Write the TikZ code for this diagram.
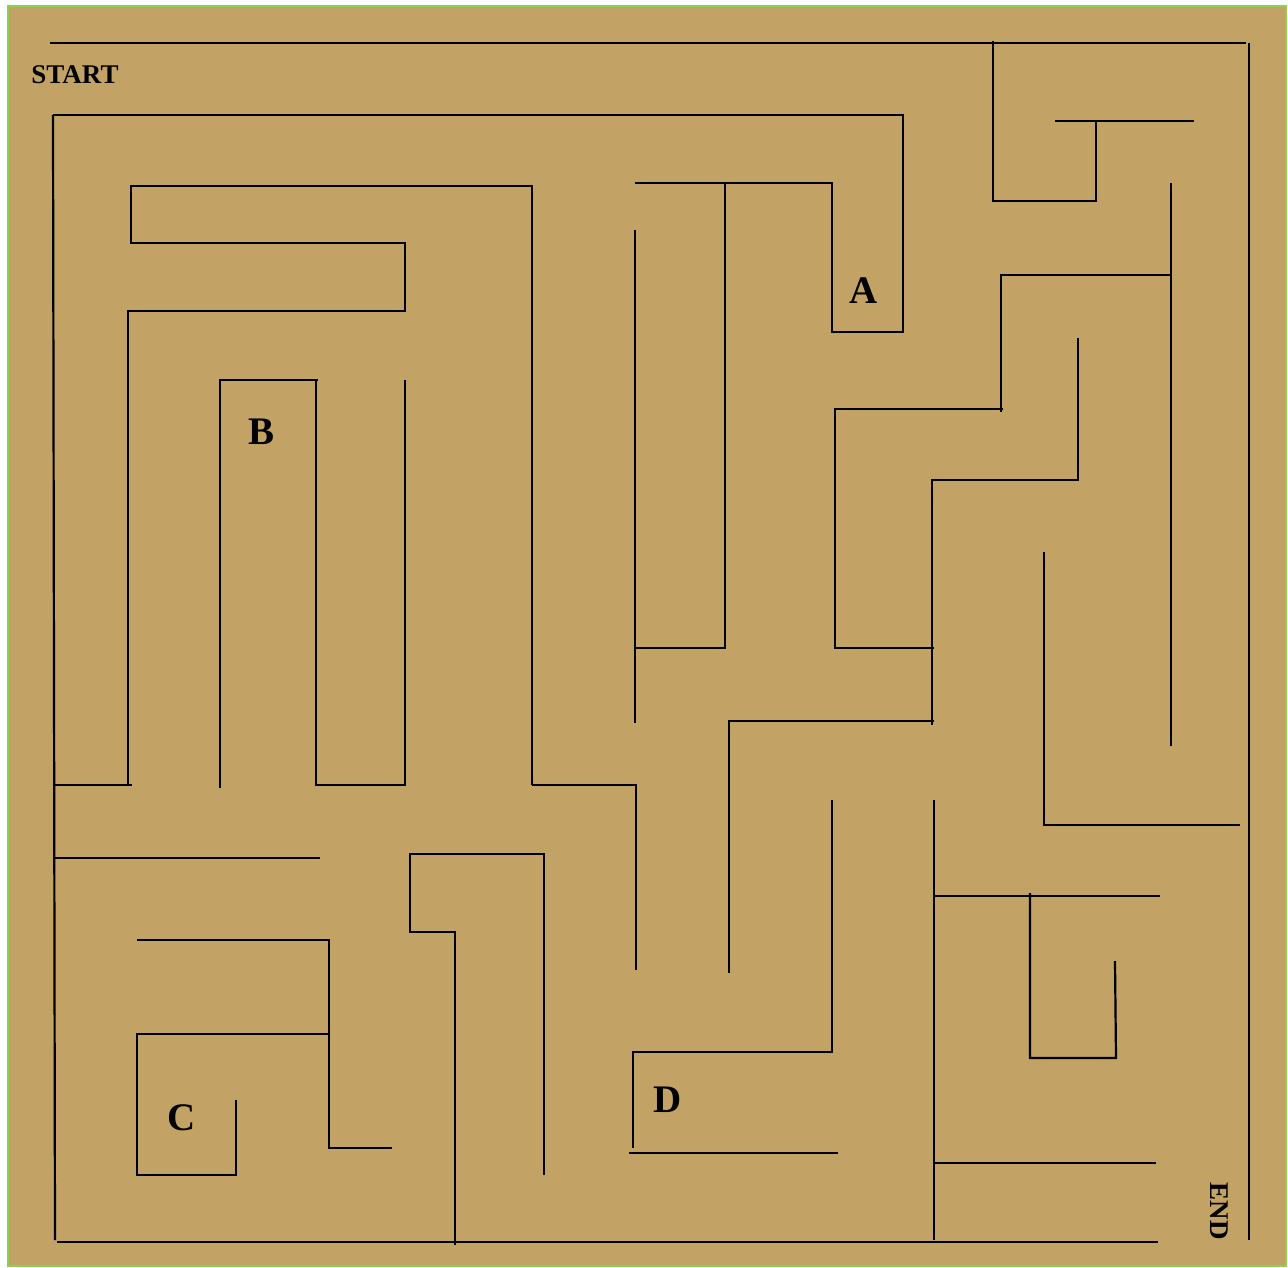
\documentclass[tikz,border=0pt]{standalone}
\usepackage{fontspec}
\setmainfont{Liberation Serif}
\definecolor{tan}{HTML}{C2A265}
\definecolor{grn}{HTML}{8CD050}
\begin{document}
\begin{tikzpicture}[x=1pt,y=-1pt,
  wall/.style={line width=2.2pt,black},
  lbl/.style={font=\bfseries\fontsize{39}{39}\selectfont,inner sep=0pt},
  slbl/.style={font=\bfseries\fontsize{27}{27}\selectfont,inner sep=0pt}]
\useasboundingbox (0,0) rectangle (1288,1268);
\fill[white] (0,0) rectangle (1288,1268);
\fill[tan,draw=grn,line width=2.5pt] (8,6) rectangle (1286,1266);
% outer walls
\draw[wall] (50,43) -- (1246,43);
\draw[wall] (1249,43) -- (1249,1240);
\draw[wall] (57,1242) -- (1158,1242);
\draw[wall] (53,115) -- (55,1240);
% top inner
\draw[wall] (53,115) -- (903,115) -- (903,332) -- (832,332) -- (832,183) -- (635,183);
\draw[wall] (725,183) -- (725,648) -- (635,648);
\draw[wall] (635,230) -- (635,723);
% top right
\draw[wall] (993,41) -- (993,201) -- (1097,201);
\draw[wall] (1096,122) -- (1096,201);
\draw[wall] (1055,121) -- (1194,121);
\draw[wall] (1171,183) -- (1171,746);
\draw[wall] (1171,275) -- (1001,275) -- (1001,412);
\draw[wall] (1003,409) -- (835,409) -- (835,648) -- (934,648);
\draw[wall] (1078,338) -- (1078,480) -- (932,480) -- (932,725);
\draw[wall] (934,721) -- (729,721) -- (729,973);
\draw[wall] (1044,552) -- (1044,825) -- (1240,825);
% left region
\draw[wall] (532,785) -- (532,186) -- (131,186) -- (131,243) -- (405,243) -- (405,311) -- (128,311) -- (128,785);
\draw[wall] (55,785) -- (132,785);
\draw[wall] (220,788) -- (220,380) -- (318,380);
\draw[wall] (316,380) -- (316,785) -- (405,785) -- (405,380);
\draw[wall] (532,785) -- (636,785) -- (636,970);
\draw[wall] (53,858) -- (320,858);
\draw[wall] (544,1175) -- (544,854) -- (410,854) -- (410,932) -- (455,932) -- (455,1245);
\draw[wall] (137,940) -- (329,940) -- (329,1148) -- (392,1148);
\draw[wall] (329,1034) -- (137,1034) -- (137,1175) -- (236,1175) -- (236,1100);
% D region
\draw[wall] (832,800) -- (832,1052) -- (633,1052) -- (633,1148);
\draw[wall] (629,1153) -- (838,1153);
% bottom right
\draw[wall] (934,800) -- (934,1240);
\draw[wall] (934,896) -- (1160,896);
\draw[wall] (1030,893) -- (1030,1058) -- (1116,1058) -- (1115,961);
\draw[wall] (934,1163) -- (1156,1163);
% labels
\node[slbl] (start) at (75,75) {START};
\node[slbl,rotate=-90] (end) at (1219,1211) {END};
\node[lbl] (a) at (864,291) {A};
\node[lbl] (b) at (262,432) {B};
\node[lbl] (c) at (182,1118) {C};
\node[lbl] (d) at (668,1100) {D};
\end{tikzpicture}
\end{document}
